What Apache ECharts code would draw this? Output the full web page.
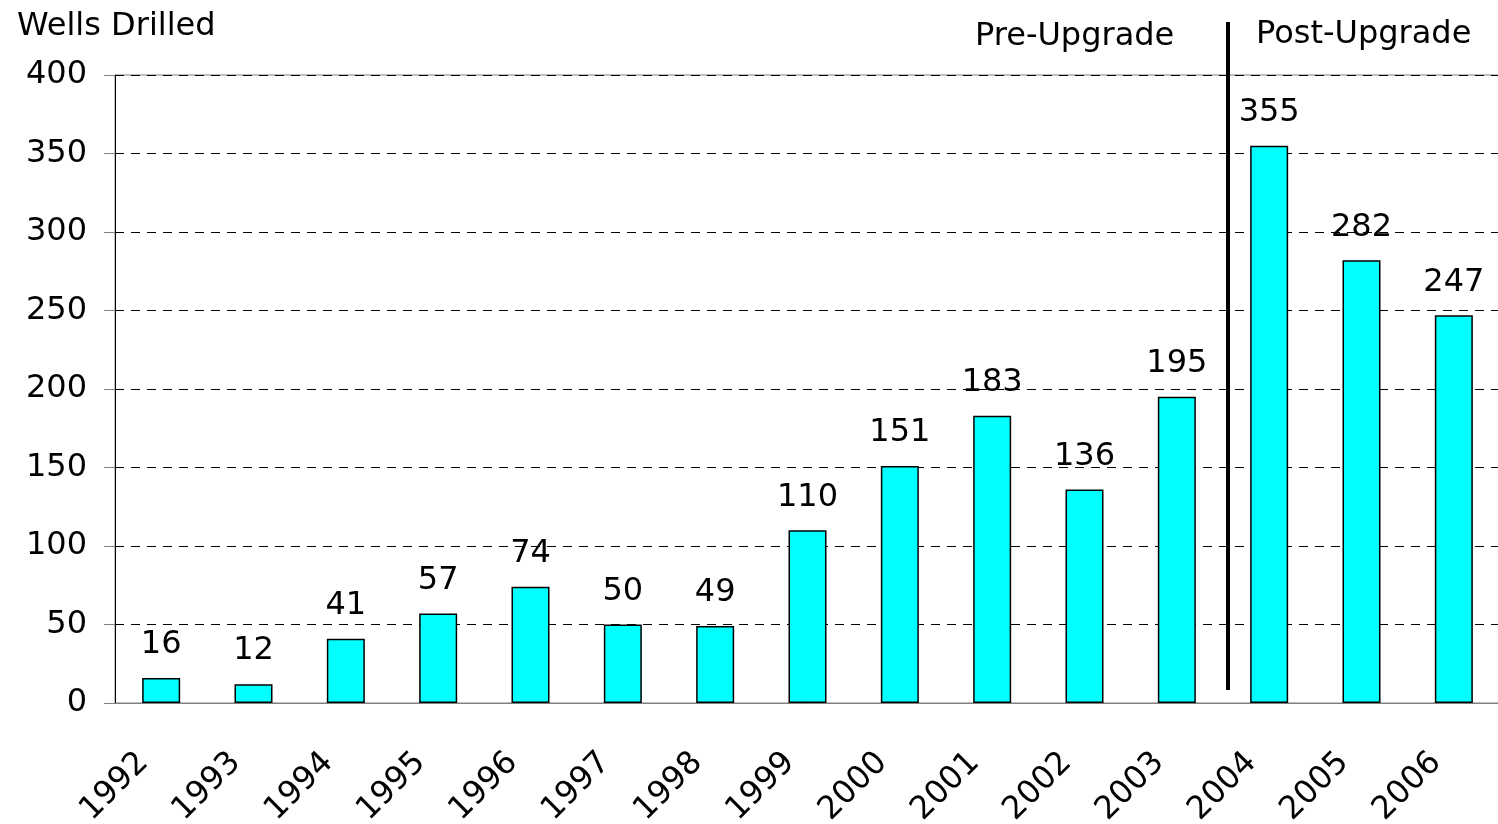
<!DOCTYPE html>
<html>
<head>
<meta charset="utf-8">
<script src="https://cdn.jsdelivr.net/npm/echarts@6/dist/echarts.min.js"></script>
<style>
  html, body { margin: 0; padding: 0; background: #fff; }
  #main { width: 1498px; height: 824px; }
</style>
</head>
<body>
<div id="main"></div>
<script>
// years on the x axis
var years = ['1992', '1993', '1994', '1995', '1996', '1997', '1998', '1999',
             '2000', '2001', '2002', '2003', '2004', '2005', '2006'];
// wells drilled per year
var wells = [16, 12, 41, 57, 74, 50, 49, 110, 151, 183, 136, 195, 355, 282, 247];
var yTicks = [0, 50, 100, 150, 200, 250, 300, 350, 400];

var font = 'DejaVu Sans, Liberation Sans, sans-serif';
var myChart = echarts.init(document.getElementById('main'));

myChart.setOption({
  animation: false,
  backgroundColor: '#fff',
  textStyle: { fontFamily: font },
  title: {
    text: 'Wells Drilled',
    left: 12,
    top: 6,
    textStyle: { fontFamily: font, fontSize: 32, fontWeight: 'normal', color: '#000' }
  },
  grid: {
    left: 115, right: -2, top: 75, bottom: 121,
    outerBoundsMode: 'none', containLabel: false,
    show: true, borderColor: '#808080', borderWidth: 1
  },
  xAxis: {
    type: 'category',
    data: years,
    axisLine: { lineStyle: { color: '#808080', width: 1 } },
    axisTick: { show: false },
    axisLabel: {
      rotate: 45, margin: 37, padding: [0, 25, 0, 0], color: '#000',
      fontFamily: font, fontSize: 32
    }
  },
  yAxis: {
    type: 'value',
    min: yTicks[0],
    max: yTicks[yTicks.length - 1],
    interval: 50,
    axisLine: { show: true, lineStyle: { color: '#000', width: 1 } },
    axisTick: { show: true, length: 11, lineStyle: { color: '#808080' } },
    axisLabel: { margin: 28, color: '#000', fontFamily: font, fontSize: 32 },
    splitLine: { lineStyle: { color: '#000', type: [9, 7], width: 1 } }
  },
  series: [{
    name: 'Wells Drilled',
    type: 'bar',
    data: wells,
    barWidth: 38,
    itemStyle: { color: '#00ffff', borderColor: '#000', borderWidth: 1.5 },
    label: {
      show: true, position: 'top', distance: 17,
      color: '#000', fontFamily: font, fontSize: 32
    }
  }],
  graphic: [
    {
      type: 'rect',
      shape: { x: 1226, y: 22, width: 4, height: 668 },
      style: { fill: '#000' }
    },
    {
      type: 'text', left: 975, top: 21,
      style: { text: 'Pre-Upgrade', font: '32px ' + font, fill: '#000' }
    },
    {
      type: 'text', left: 1256, top: 19,
      style: { text: 'Post-Upgrade', font: '32px ' + font, fill: '#000' }
    }
  ]
});
</script>
</body>
</html>
